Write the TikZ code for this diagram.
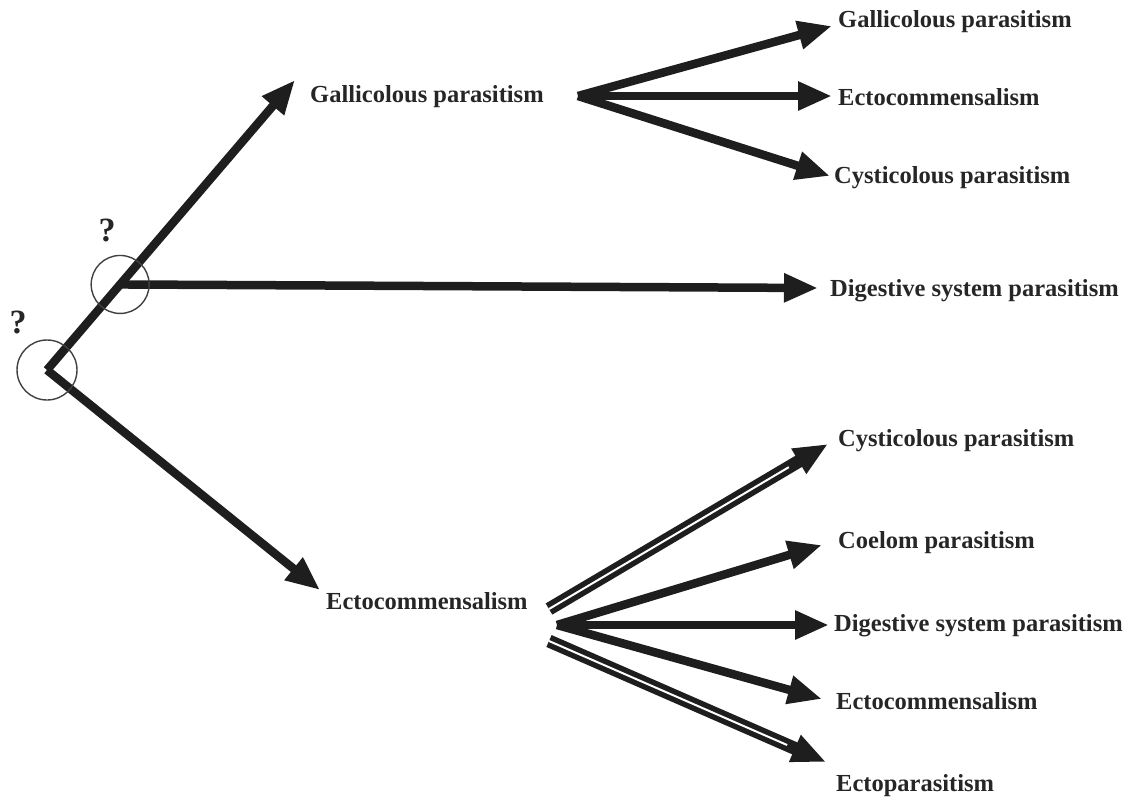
\documentclass[tikz,border=0pt]{standalone}
\usepackage{fontspec}
\setmainfont{Liberation Serif}
\usetikzlibrary{arrows.meta,calc}
\definecolor{ink}{HTML}{1E1E1E}
\definecolor{txt}{HTML}{262626}
\tikzset{
  arr/.style={draw=ink,line width=8.5pt,-{Triangle[length=34pt,width=27pt]}},
  dbl/.style={draw=ink,line width=5.5pt,double=white,double distance=2pt},
  lbl/.style={anchor=west,inner sep=0pt,text=txt,font=\bfseries\fontsize{24.5}{29}\selectfont},
  qm/.style={inner sep=0pt,text=txt,font=\bfseries\fontsize{34}{38}\selectfont},
  ring/.style={draw=ink!85,line width=1.4pt}
}
\begin{document}
\begin{tikzpicture}[x=1pt,y=-1pt]
\useasboundingbox (0,0) rectangle (1133,804);
% root and junction
\coordinate (r) at (47,370);
\coordinate (tg) at (295,80);
\coordinate (j) at ($(r)!0.295!(tg)$);
\coordinate (te) at (320,590);
\coordinate (td) at (818,288);
% labels middle
\node[lbl] (g1) at (310,97) {Gallicolous parasitism};
\node[lbl] (e1) at (326,601) {Ectocommensalism};
% right labels top
\node[lbl] (ga) at (838,22) {Gallicolous parasitism};
\node[lbl] (ec) at (838,97) {Ectocommensalism};
\node[lbl] (cy) at (834,178) {Cysticolous parasitism};
\node[lbl] (di) at (830,291) {Digestive system parasitism};
% right labels bottom
\node[lbl] (cy2) at (838,441) {Cysticolous parasitism};
\node[lbl] (co) at (838,543) {Coelom parasitism};
\node[lbl] (di2) at (834,626) {Digestive system parasitism};
\node[lbl] (ec2) at (836,701) {Ectocommensalism};
\node[lbl] (ep) at (836,786) {Ectoparasitism};
% main arrows
\draw[arr] (r) -- (tg);
\draw[arr] (r) -- (te);
\draw[arr] (j) -- (td);
% rings and question marks
\draw[ring] (r) circle (30);
\draw[ring] (j) circle (29);
\node[qm] (q1) at (18,322) {?};
\node[qm] (q2) at (107,230) {?};
% top fan
\coordinate (f1) at (578,96);
\coordinate (t1) at (832,26);
\coordinate (t2) at (832,96);
\coordinate (t3) at (830,176);
\draw[arr] (f1) -- (t1);
\draw[arr] (f1) -- (t2);
\draw[arr] (f1) -- (t3);
% bottom fan
\coordinate (f2) at (557,625);
\coordinate (b1) at (828,444);
\coordinate (b2) at (822,545);
\coordinate (b3) at (829,625);
\coordinate (b4) at (822,699);
\coordinate (b5) at (826,762);
\coordinate (s1) at (549,609);
\coordinate (s5) at (549,641);
\draw[dbl] (s1) -- ($(s1)!0.9!(b1)$);
\draw[arr] ($(s1)!0.86!(b1)$) -- (b1);
\draw[dbl] (s5) -- ($(s5)!0.9!(b5)$);
\draw[arr] ($(s5)!0.86!(b5)$) -- (b5);
\draw[arr] (f2) -- (b2);
\draw[arr] (f2) -- (b3);
\draw[arr] (f2) -- (b4);
\end{tikzpicture}
\end{document}
